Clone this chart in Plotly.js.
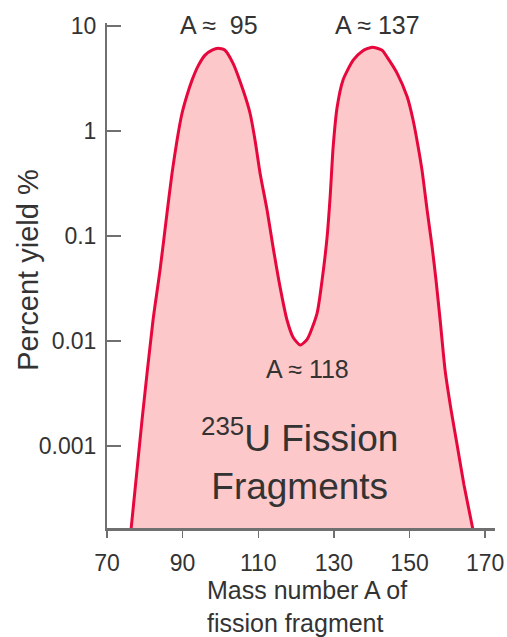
<!DOCTYPE html>
<html>
<head>
<meta charset="utf-8">
<script src="https://cdn.plot.ly/plotly-3.0.1.min.js"></script>
<style>
html,body{margin:0;padding:0;background:#fff;}
#chart{width:507px;height:637px;}
</style>
</head>
<body>
<div id="chart"></div>
<script>
// Mass number A of fission fragment
const massNumber = [76.2, 79.26, 82.17, 84.02, 85.87, 87.2, 88.52, 89.84, 91.16, 92.49, 94.07, 95.93, 97.78, 99.37, 101.2, 103.3, 105.98, 107.83, 109.15, 110.48, 112.33, 113.92, 115.77, 117.62, 119.2, 121.1, 123.0, 125.56, 126.88, 128.2, 129.0, 129.8, 130.85, 132.4, 135.1, 137.5, 140.1, 142.75, 144.07, 146.7, 149.4, 150.95, 152.3, 153.3, 154.65, 155.98, 157.0, 158.1, 159.4, 161.0, 162.6, 164.4, 166.8, 167.2];
// Percent yield %
const percentYield = [0.000141, 0.00177, 0.0158, 0.0474, 0.166, 0.398, 0.82, 1.48, 2.2, 3.06, 4.16, 5.3, 5.9, 6.17, 5.9, 4.45, 2.46, 1.48, 0.82, 0.398, 0.177, 0.0785, 0.0327, 0.0158, 0.0109, 0.00916, 0.0105, 0.0185, 0.0381, 0.0977, 0.235, 0.704, 1.69, 3.06, 4.74, 5.78, 6.31, 5.9, 5.07, 3.57, 2.11, 1.27, 0.704, 0.425, 0.177, 0.0785, 0.0381, 0.0158, 0.0053, 0.0022, 0.00102, 0.000426, 0.000158, 0.000127];

const xTickVals = [70, 90, 110, 130, 150, 170];
const yTickVals = [0.001, 0.01, 0.1, 1, 10];
const yTickText = ['0.001', '0.01', '0.1', '1', '10'];

const peakLabels = ['A \u2248\u00A0\u00A095', 'A \u2248 137', 'A \u2248 118'];
const peakLabelA = [99.6, 141.6, 123.0];

const FONT = 'Liberation Sans, Arial, Helvetica, sans-serif';
const TXT = '#333333';
const AXIS = '#707070';

const trace = {
  x: massNumber,
  y: percentYield,
  type: 'scatter',
  mode: 'lines',
  line: {color: '#E6083D', width: 3, shape: 'spline', smoothing: 0.6},
  fill: 'toself',
  fillcolor: '#FCC8C9',
  hoverinfo: 'skip'
};

const annotations = [
  {x: peakLabelA[0], y: 1, xref: 'x', yref: 'paper', yshift: -2, text: peakLabels[0],
   showarrow: false, xanchor: 'center', yanchor: 'middle', font: {family: FONT, size: 25, color: TXT}},
  {x: peakLabelA[1], y: 1, xref: 'x', yref: 'paper', yshift: -2, text: peakLabels[1],
   showarrow: false, xanchor: 'center', yanchor: 'middle', font: {family: FONT, size: 25, color: TXT}},
  {x: peakLabelA[2], y: -2.267, xref: 'x', yref: 'y', text: peakLabels[2],
   showarrow: false, xanchor: 'center', yanchor: 'middle', font: {family: FONT, size: 25, color: TXT}},
  {x: 121.0, y: Math.log10(0.00075), xref: 'x', yref: 'y',
   text: '<sup>235</sup>U Fission<br>Fragments', showarrow: false,
   xanchor: 'center', yanchor: 'middle', align: 'center',
   font: {family: FONT, size: 37, color: TXT}},
  {x: 0.2526, y: 0, xref: 'paper', yref: 'paper', yshift: -46,
   text: 'Mass number A of<br>fission fragment', showarrow: false,
   xanchor: 'left', yanchor: 'top', align: 'left',
   font: {family: FONT, size: 25, color: TXT}},
  {x: -0.204, y: 0.511, xref: 'paper', yref: 'paper', textangle: -90,
   text: 'Percent yield %', showarrow: false,
   xanchor: 'center', yanchor: 'middle',
   font: {family: FONT, size: 29, color: TXT}}
];

const layout = {
  width: 507, height: 637,
  margin: {l: 107, r: 12, t: 23, b: 109, pad: 0},
  paper_bgcolor: '#ffffff', plot_bgcolor: '#ffffff',
  showlegend: false,
  xaxis: {
    range: [70, 172.6], showgrid: false, zeroline: false,
    showline: true, linecolor: AXIS, linewidth: 3,
    ticks: 'outside', ticklen: 7, tickwidth: 1.5, tickcolor: AXIS,
    tickvals: xTickVals, ticklabelstandoff: 5,
    tickfont: {family: FONT, size: 23, color: TXT}
  },
  yaxis: {
    type: 'log', range: [-3.78, 1.03], showgrid: false, zeroline: false,
    showline: true, linecolor: AXIS, linewidth: 2,
    ticks: 'inside', ticklen: 14, tickwidth: 2, tickcolor: AXIS,
    tickvals: yTickVals, ticktext: yTickText, ticklabelstandoff: 4,
    tickfont: {family: FONT, size: 23, color: TXT}
  },
  annotations: annotations
};

Plotly.newPlot('chart', [trace], layout, {displayModeBar: false, staticPlot: true});
</script>
</body>
</html>
